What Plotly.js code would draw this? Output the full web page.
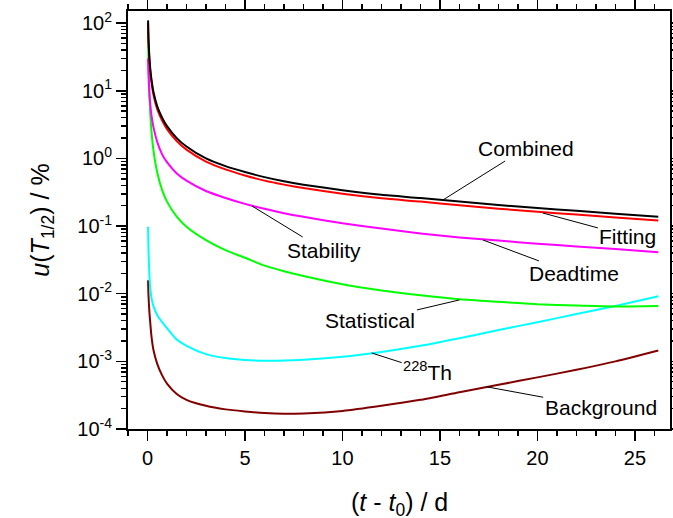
<!DOCTYPE html>
<html><head><meta charset="utf-8">
<script src="https://cdn.plot.ly/plotly-3.0.1.min.js"></script>
<style>html,body{margin:0;padding:0;background:#fff}</style>
</head><body><div id="chart" style="width:673px;height:518px"></div>
<script>
// elapsed time (d)
const t = [0.03, 0.05, 0.1, 0.15, 0.2, 0.3, 0.5, 0.75, 1, 1.5, 2, 3, 4, 5, 6, 7, 8, 10, 12, 14, 16, 18, 20, 22, 24, 26.2];
// relative uncertainty components (%)
const combined    = [110, 60, 30, 20, 15, 9.8, 5.9, 4.0, 3.0, 2.0, 1.5, 1.0, 0.77, 0.63, 0.53, 0.46, 0.41, 0.34, 0.29, 0.26, 0.23, 0.205, 0.185, 0.168, 0.152, 0.137];
const fitting     = [100, 55, 27.5, 18.3, 13.7, 8.9, 5.35, 3.62, 2.72, 1.81, 1.35, 0.9, 0.69, 0.56, 0.47, 0.41, 0.365, 0.30, 0.257, 0.23, 0.203, 0.181, 0.163, 0.148, 0.134, 0.121];
const deadtime    = [30, 18, 9, 6, 4.4, 2.95, 1.75, 1.15, 0.88, 0.6, 0.47, 0.33, 0.26, 0.213, 0.18, 0.155, 0.137, 0.11, 0.092, 0.078, 0.068, 0.061, 0.055, 0.05, 0.046, 0.041];
const statistical = [74, 30, 8, 4.2, 2.6, 1.35, 0.62, 0.34, 0.23, 0.138, 0.098, 0.062, 0.044, 0.034, 0.026, 0.0215, 0.0183, 0.0138, 0.0112, 0.0095, 0.0083, 0.0076, 0.007, 0.0067, 0.0065, 0.0066];
const th228       = [0.098, 0.045, 0.018, 0.0115, 0.0088, 0.0066, 0.0048, 0.0038, 0.0031, 0.0021, 0.0017, 0.00128, 0.00112, 0.00105, 0.00102, 0.00103, 0.00106, 0.00117, 0.00138, 0.0017, 0.0022, 0.0029, 0.0038, 0.005, 0.0066, 0.0092];
const background  = [0.0158, 0.0095, 0.0052, 0.0035, 0.0024, 0.0015, 0.00092, 0.00062, 0.00047, 0.00033, 0.00027, 0.00022, 0.000195, 0.000182, 0.000172, 0.000168, 0.00017, 0.000185, 0.00022, 0.00027, 0.00035, 0.00045, 0.00058, 0.00075, 0.001, 0.00145];

// axis ticks
const decades = [-4, -3, -2, -1, 0, 1, 2];
const xTicks = [0, 5, 10, 15, 20, 25];

// curve labels: text, anchor on curve (t, value), text offset
const labelText = ['Combined', 'Fitting', 'Deadtime', 'Stability', 'Statistical', '<sup>228</sup>Th', 'Background'];
const labelT    = [15.15, 20.28, 17.2, 5.36, 16.0, 11.5, 17.4];
const labelVal  = [0.243, 0.156, 0.0624, 0.198, 0.0081, 0.00133, 0.00042];
const labelAx   = [83, 85, 91, 72, -89, 56, 114];
const labelAy   = [-52, 23, 34, 44, 21, 18, 21];

const yTickVals = decades.map(p => Math.pow(10, p));
const yTickText = decades.map(p => '10<sup>' + p + '</sup>');
const yMinor = [];
decades.slice(0, -1).forEach(p => { for (let k = 2; k <= 9; k++) yMinor.push(k * Math.pow(10, p)); });

const series = [
  {y: background, c: '#800000', n: 'Background'},
  {y: th228, c: '#00ffff', n: '228Th'},
  {y: statistical, c: '#00ff00', n: 'Statistical'},
  {y: deadtime, c: '#ff00ff', n: 'Deadtime'},
  {y: fitting, c: '#ff0000', n: 'Fitting'},
  {y: combined, c: '#000000', n: 'Combined'}
];
const data = series.map(s => ({x: t, y: s.y, name: s.n, type: 'scatter', mode: 'lines',
  line: {color: s.c, width: 2, shape: 'spline', smoothing: 0.6}, hoverinfo: 'skip'}));

const font = 'Arial, "Liberation Sans", sans-serif';
const XR = [-1, 26.8], YR = [-4, 2.18];

const annotations = labelText.map((txt, i) => ({
  x: labelT[i], y: Math.log10(labelVal[i]), xref: 'x', yref: 'y', text: txt,
  showarrow: true, arrowhead: 0, arrowwidth: 1, arrowcolor: '#000', ax: labelAx[i], ay: labelAy[i],
  standoff: 0, font: {family: font, size: 21, color: '#000'}
}));
// x-axis title
annotations.push({xref: 'paper', yref: 'paper', x: 0.5, y: 0, xanchor: 'center', yanchor: 'middle', yshift: -75,
  showarrow: false, text: '(<i>t</i> - <i>t</i><sub>0</sub>) / d', font: {family: font, size: 25, color: '#000'}});

const layout = {
  width: 673, height: 518,
  margin: {l: 128, r: 3, t: 11, b: 89},
  paper_bgcolor: '#fff', plot_bgcolor: '#fff',
  showlegend: false,
  font: {family: font, color: '#000'},
  xaxis: {
    range: XR, tickmode: 'array', tickvals: xTicks, ticks: 'outside', ticklen: 10, tickwidth: 1.5, tickcolor: '#000',
    minor: {ticks: 'outside', ticklen: 5, tickwidth: 1.5, dtick: 1, tick0: 0, tickcolor: '#000', showgrid: false},
    showline: true, mirror: 'allticks', linewidth: 2, linecolor: '#000', showgrid: false, zeroline: false,
    tickfont: {size: 20, family: font}
  },
  yaxis: {
    type: 'log', range: YR, tickmode: 'array', tickvals: yTickVals, ticktext: yTickText,
    ticks: 'outside', ticklen: 10, tickwidth: 1.5, tickcolor: '#000',
    minor: {tickmode: 'array', tickvals: yMinor, ticks: 'outside', ticklen: 5, tickwidth: 1.5, tickcolor: '#000', showgrid: false},
    showline: true, mirror: 'allticks', linewidth: 2, linecolor: '#000', showgrid: false, zeroline: false,
    tickfont: {size: 20, family: font},
    title: {text: '<i>u</i>(<i>T</i><sub>1/2</sub>) / %', font: {size: 25, family: font}, standoff: 21}
  },
  annotations: annotations
};

Plotly.newPlot('chart', data, layout, {staticPlot: true, displayModeBar: false});
</script>
</body></html>
